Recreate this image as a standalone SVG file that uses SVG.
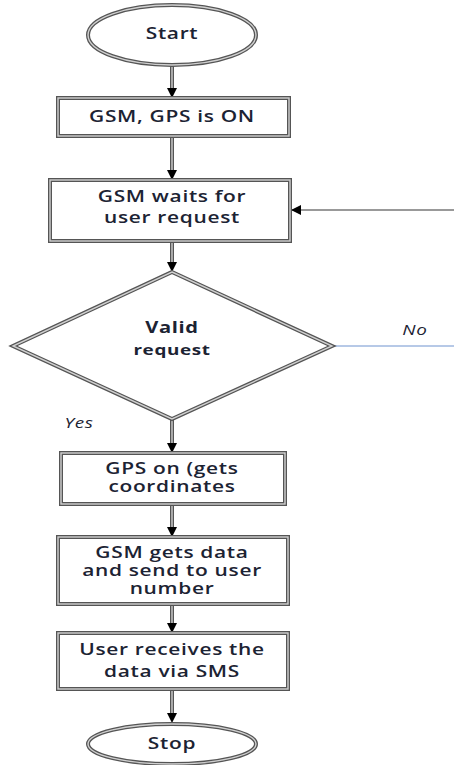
<svg xmlns="http://www.w3.org/2000/svg" width="454" height="765" viewBox="0 0 454 765">
<style>
.o{fill:#fff;stroke:#555;stroke-width:4}
.i{fill:none;stroke:#d0d0d0;stroke-width:1.4}
.t{font-family:"Open Sans","Liberation Sans",sans-serif;font-size:15.5px;font-weight:600;fill:#1c2333;text-anchor:middle;letter-spacing:0.5px}
.b{font-weight:700}
.it{font-style:italic;font-weight:400;font-size:14px}
.c{fill:none;stroke:#555;stroke-width:4}
.ci{fill:none;stroke:#cfcfcf;stroke-width:1.4}
</style>
<defs>
<marker id="ah" viewBox="0 0 10 10" refX="10" refY="5" markerWidth="10" markerHeight="10" markerUnits="userSpaceOnUse" orient="auto">
<path d="M0,0 L10,5 L0,10 Z" fill="#000"/>
</marker>
</defs>
<g id="connectors">
<line class="c" x1="172" y1="65" x2="172" y2="88"/><line class="ci" x1="172" y1="65" x2="172" y2="88"/>
<path d="M167,88 L177,88 L172,98 Z" fill="#000"/>
<line class="c" x1="172" y1="136" x2="172" y2="170"/><line class="ci" x1="172" y1="136" x2="172" y2="170"/>
<path d="M167,170 L177,170 L172,180 Z" fill="#000"/>
<line class="c" x1="172" y1="241" x2="172" y2="262"/><line class="ci" x1="172" y1="241" x2="172" y2="262"/>
<path d="M167,262 L177,262 L172,272 Z" fill="#000"/>
<line x1="454" y1="210" x2="291" y2="210" stroke="#999" stroke-width="2" marker-end="url(#ah)"/>
<line x1="332" y1="346" x2="454" y2="346" stroke="#6f93cf" stroke-width="1"/>
<line class="c" x1="172" y1="419" x2="172" y2="443"/><line class="ci" x1="172" y1="419" x2="172" y2="443"/>
<path d="M167,443 L177,443 L172,453 Z" fill="#000"/>
<line class="c" x1="172" y1="504" x2="172" y2="527"/><line class="ci" x1="172" y1="504" x2="172" y2="527"/>
<path d="M167,527 L177,527 L172,537 Z" fill="#000"/>
<line class="c" x1="172" y1="604" x2="172" y2="623"/><line class="ci" x1="172" y1="604" x2="172" y2="623"/>
<path d="M167,623 L177,623 L172,633 Z" fill="#000"/>
<line class="c" x1="172" y1="689" x2="172" y2="713"/><line class="ci" x1="172" y1="689" x2="172" y2="713"/>
<path d="M167,713 L177,713 L172,723 Z" fill="#000"/>
</g>
<g id="start">
<ellipse class="o" cx="172" cy="35" rx="84" ry="30"/><ellipse class="i" cx="172" cy="35" rx="84" ry="30"/>
<g transform="matrix(1.35,0,0,1,-60.2,0)"><text class="t" x="172" y="39">Start</text></g>
</g>
<g id="gsm_gps_on">
<rect class="o" x="58" y="98" width="231" height="38"/><rect class="i" x="58" y="98" width="231" height="38"/>
<g transform="matrix(1.35,0,0,1,-60.2,0)"><text class="t" x="172" y="122">GSM, GPS is ON</text></g>
</g>
<g id="gsm_waits">
<rect class="o" x="50" y="180" width="240" height="61"/><rect class="i" x="50" y="180" width="240" height="61"/>
<g transform="matrix(1.35,0,0,1,-60.2,0)"><text class="t" x="172" y="202">GSM waits for</text>
<text class="t" x="172" y="223">user request</text></g>
</g>
<g id="valid">
<polygon class="o" points="172,272 332,346 172,419 13,346"/><polygon class="i" points="172,272 332,346 172,419 13,346"/>
<g transform="matrix(1.3,0,0,1,-51.6,0)"><text class="t b" x="172" y="333">Valid</text>
<text class="t b" x="172" y="355" style="font-size:14.5px">request</text></g>
</g>
<g transform="matrix(1.35,0,0,1,-145.25,0)"><text class="t it" x="415" y="335">No</text></g>
<g transform="matrix(1.35,0,0,1,-27.65,0)"><text class="t it" x="79" y="428">Yes</text></g>
<g id="gps_on">
<rect class="o" x="61" y="453" width="224" height="51"/><rect class="i" x="61" y="453" width="224" height="51"/>
<g transform="matrix(1.35,0,0,1,-60.2,0)"><text class="t" x="172" y="474">GPS on (gets</text>
<text class="t" x="172" y="492">coordinates</text></g>
</g>
<g id="gsm_gets_data">
<rect class="o" x="58" y="537" width="230" height="67"/><rect class="i" x="58" y="537" width="230" height="67"/>
<g transform="matrix(1.35,0,0,1,-60.2,0)"><text class="t" x="172" y="558">GSM gets data</text>
<text class="t" x="172" y="576">and send to user</text>
<text class="t" x="172" y="594">number</text></g>
</g>
<g id="user_receives">
<rect class="o" x="58" y="633" width="230" height="56"/><rect class="i" x="58" y="633" width="230" height="56"/>
<g transform="matrix(1.35,0,0,1,-60.2,0)"><text class="t" x="172" y="655">User receives the</text>
<text class="t" x="172" y="677">data via SMS</text></g>
</g>
<g id="stop">
<ellipse class="o" cx="172" cy="744" rx="84" ry="20"/><ellipse class="i" cx="172" cy="744" rx="84" ry="20"/>
<g transform="matrix(1.35,0,0,1,-60.2,0)"><text class="t" x="172" y="749">Stop</text></g>
</g>
</svg>
